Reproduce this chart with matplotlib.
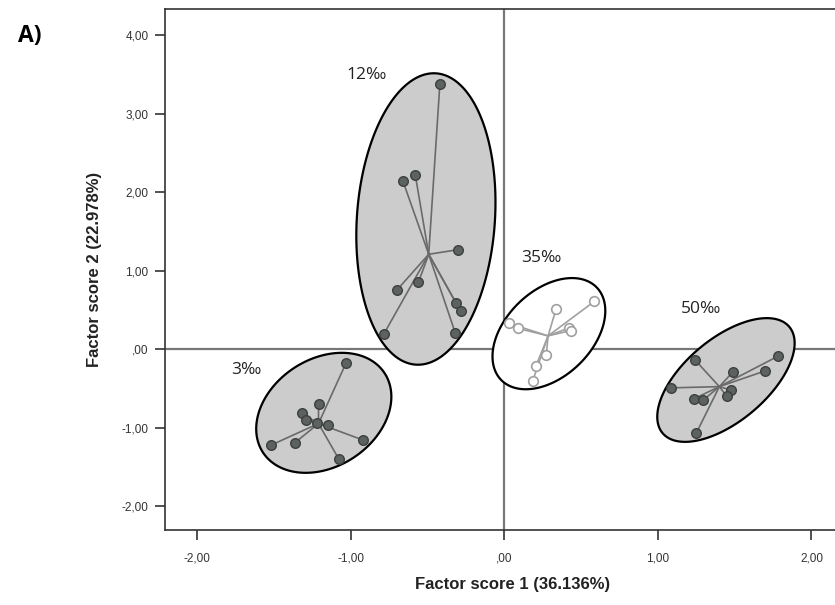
"""PCA factor scores grouped by salinity, with centroid spokes and ellipses."""

import matplotlib
matplotlib.use("Agg")
import matplotlib.pyplot as plt
import numpy as np
from matplotlib.patches import Polygon
from matplotlib.ticker import FixedLocator, FuncFormatter

groups = ["3‰", "12‰", "35‰", "50‰"]

fs1_3 = [-1.03, -1.21, -1.32, -1.29, -1.15, -1.52, -1.365, -0.92, -1.08, -1.22]
fs2_3 = [-0.17, -0.70, -0.815, -0.90, -0.965, -1.22, -1.19, -1.155, -1.39, -0.94]

fs1_12 = [-0.42, -0.66, -0.58, -0.30, -0.56, -0.70, -0.316, -0.285, -0.785, -0.32]
fs2_12 = [3.38, 2.14, 2.22, 1.27, 0.853, 0.755, 0.594, 0.488, 0.195, 0.211]

fs1_35 = [0.585, 0.336, 0.032, 0.089, 0.424, 0.434, 0.273, 0.206, 0.185]
fs2_35 = [0.61, 0.51, 0.33, 0.267, 0.275, 0.24, -0.076, -0.21, -0.40]

fs1_50 = [1.78, 1.244, 1.488, 1.697, 1.086, 1.477, 1.448, 1.238, 1.293, 1.249]
fs2_50 = [-0.089, -0.14, -0.288, -0.275, -0.49, -0.52, -0.597, -0.626, -0.65, -1.07]

# ellipse centres (data) and shape on screen: semi-axes in px, angle in deg
ell_cx = [-1.176, -0.511, 0.29, 1.443]
ell_cy = [-0.808, 1.66, 0.20, -0.39]
ell_a = [72.6, 146, 66.5, 82.7]
ell_b = [53.8, 69, 43, 41.3]
ell_ang = [33, 86, 44, 40]

label_x = [-1.68, -0.90, 0.24, 1.28]
label_y = [-0.26, 3.49, 1.16, 0.51]

xticks = [-2, -1, 0, 1, 2]
yticks = [-2, -1, 0, 1, 2, 3, 4]

xs = [fs1_3, fs1_12, fs1_35, fs1_50]
ys = [fs2_3, fs2_12, fs2_35, fs2_50]
filled = [True, True, False, True]


def fmt(v, pos):
    s = f"{v:.2f}".replace(".", ",")
    if s.startswith("0"):
        s = s[1:]
    if s.startswith("-0"):
        s = "-" + s[2:]
    return s


fig = plt.figure(figsize=(8.35, 6.05), dpi=100)
W, H = 835, 605
left, right, top, bottom = 165, 860, 9.3, 530
ax = fig.add_axes([left / W, 1 - bottom / H, (right - left) / W, (bottom - top) / H])
ax.set_xlim(-2.21, (right - 504.5) / 153.5)
ax.set_ylim(-2.30, 4.33)

for side in ["left", "bottom", "top", "right"]:
    ax.spines[side].set_color("#333333")
    ax.spines[side].set_linewidth(1.2)

ax.axvline(0, color="#777777", lw=1.6, zorder=1)
ax.axhline(0, color="#777777", lw=1.6, zorder=1)

for i in range(len(groups)):
    # ellipse built in screen pixels, mapped back to data
    c = ax.transData.transform((ell_cx[i], ell_cy[i]))
    t = np.linspace(0, 2 * np.pi, 300)
    th = np.deg2rad(ell_ang[i])
    u = ell_a[i] * np.cos(t)
    v = ell_b[i] * np.sin(t)
    px = c[0] + u * np.cos(th) - v * np.sin(th)
    py = c[1] + u * np.sin(th) + v * np.cos(th)
    pts = ax.transData.inverted().transform(np.column_stack([px, py]))
    fc = "#cccccc" if filled[i] else "white"
    ax.add_patch(Polygon(pts, closed=True, facecolor=fc, edgecolor="black",
                         lw=1.6, zorder=2))

    x = np.array(xs[i]); y = np.array(ys[i])
    mx, my = x.mean(), y.mean()
    lc = "#6a6a6a" if filled[i] else "#a0a0a0"
    for xi, yi in zip(x, y):
        ax.plot([mx, xi], [my, yi], color=lc, lw=1.2, zorder=3)
    if filled[i]:
        ax.scatter(x, y, s=48, facecolor="#5c625f", edgecolor="#3c403e",
                   linewidth=1.0, zorder=4)
    else:
        ax.scatter(x, y, s=48, facecolor="white", edgecolor="#a0a0a0",
                   linewidth=1.2, zorder=4)
    ax.text(label_x[i], label_y[i], groups[i], fontsize=12.5, family="Open Sans",
            ha="center", va="center", color="#222222")

ax.xaxis.set_major_locator(FixedLocator(xticks))
ax.yaxis.set_major_locator(FixedLocator(yticks))
ax.xaxis.set_major_formatter(FuncFormatter(fmt))
ax.yaxis.set_major_formatter(FuncFormatter(fmt))
ax.tick_params(direction="out", length=7, width=1.2, color="#333333",
               labelsize=8.5, labelcolor="#333333")
ax.tick_params(axis="x", pad=9)
ax.tick_params(axis="y", pad=5)
for lab in ax.get_xticklabels() + ax.get_yticklabels():
    lab.set_family("Liberation Sans")

ax.set_xlabel("Factor score 1 (36.136%)", fontsize=12, fontweight="bold",
              family="Liberation Sans", color="#222222", labelpad=9)
ax.set_ylabel("Factor score 2 (22.978%)", fontsize=12, fontweight="bold",
              family="Liberation Sans", color="#222222", labelpad=14)

fig.text(30 / W, 1 - 36 / H, "A)", fontsize=16.5, fontweight="bold",
         family="Open Sans", ha="center", va="center")

fig.savefig("out.png", dpi=100)
